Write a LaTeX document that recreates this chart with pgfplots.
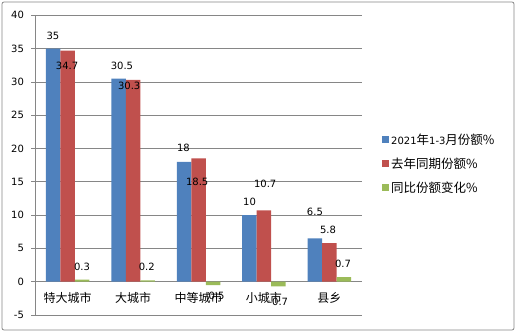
\documentclass[border=0pt]{standalone}
\usepackage{fontspec}
\usepackage{pgfplots}
\pgfplotsset{compat=1.18}
\setmainfont{DejaVu Sans}
\newfontfamily\cjk{Noto Sans CJK SC}
\definecolor{sblue}{HTML}{4F81BD}
\definecolor{sred}{HTML}{C0504D}
\definecolor{sgreen}{HTML}{9BBB59}
\definecolor{gridc}{HTML}{868686}
\newcommand{\cj}[1]{{\cjk\fontsize{12.5}{14}\selectfont #1}}
\pgfplotsset{base/.style={scale only axis, width=327pt, height=299.7pt,
  xmin=-0.5, xmax=4.5, ymin=-5, ymax=40}}
\begin{document}
\begin{tikzpicture}
\path (-35pt,-17pt) rectangle (481pt,315pt);
\draw[gridc, line width=0.8pt, rounded corners=2pt] (-33pt,-15pt) rectangle (479pt,313pt);
\begin{axis}[base,
  axis line style={draw=none},
  ytick={-5,0,5,10,15,20,25,30,35,40},
  ytick pos=left,
  xtick=\empty,
  ymajorgrids, grid style={gridc, line width=0.8pt},
  tick align=outside,
  major tick length=3.5pt,
  ytick style={gridc, line width=0.8pt},
  /pgf/number format/assume math mode=true,
  yticklabel style={font=\fontsize{10}{12}\selectfont, xshift=-4pt},
  clip=false,
]
\addplot[gridc, line width=0.8pt] coordinates {(-0.5,-5) (-0.5,40)};
\addplot[gridc, line width=0.8pt] coordinates {(-0.5,40) (4.5,40)};
\end{axis}
\begin{axis}[base,
  axis x line*=middle, axis y line=none,
  axis line style={gridc, line width=0.8pt},
  ytick=\empty,
  xtick={0,...,4},
  xticklabels={特大城市,大城市,中等城市,小城市,县乡},
  xtick style={draw=none},
  extra x ticks={-0.5,0.5,...,4.5},
  extra x tick labels={},
  extra x tick style={tick style={draw=gridc, line width=0.8pt}, major tick length=5pt, tick align=outside},
  xticklabel style={font=\cjk\fontsize{12}{14}\selectfont, yshift=-3pt},
  clip=false,
  ybar,
  legend style={draw=none, fill=none, at={(1,1)}, anchor=north west, xshift=17pt, yshift=-114pt,
    font=\fontsize{10}{12}\selectfont, row sep=8pt, legend cell align=left},
  legend image code/.code={\fill[#1] (0pt,-3.5pt) rectangle (7pt,3.5pt);},
]
\addplot[bar width=14.5pt, bar shift=-14.5pt, fill=sblue, draw=none] coordinates {(0,35) (1,30.5) (2,18) (3,10) (4,6.5)};
\addplot[bar width=14.5pt, bar shift=0pt, fill=sred, draw=none] coordinates {(0,34.7) (1,30.3) (2,18.5) (3,10.7) (4,5.8)};
\addplot[bar width=14.5pt, bar shift=14.5pt, fill=sgreen, draw=none] coordinates {(0,0.3) (1,0.2) (2,-0.5) (3,-0.7) (4,0.7)};
\legend{2021\cj{年}1-3\cj{月份额\%},\cj{去年同期份额\%},\cj{同比份额变化\%}}
\begin{scope}[every node/.style={font=\fontsize{10}{12}\selectfont, inner sep=0pt}]
\node at (axis cs:-0.225,36.9) {35};
\node at (axis cs:-0.01,32.4) {34.7};
\node at (axis cs:0.22,2.3) {0.3};
\node at (axis cs:0.83,32.4) {30.5};
\node at (axis cs:0.94,29.4) {30.3};
\node at (axis cs:1.21,2.3) {0.2};
\node at (axis cs:1.77,20.1) {18};
\node at (axis cs:1.98,15.0) {18.5};
\node at (axis cs:2.25,-2.2) {-0.5};
\node at (axis cs:2.78,12.0) {10};
\node at (axis cs:3.02,14.7) {10.7};
\node at (axis cs:3.22,-3.1) {-0.7};
\node at (axis cs:3.78,10.5) {6.5};
\node at (axis cs:3.98,7.8) {5.8};
\node at (axis cs:4.21,2.7) {0.7};
\end{scope}
\end{axis}
\end{tikzpicture}
\end{document}
